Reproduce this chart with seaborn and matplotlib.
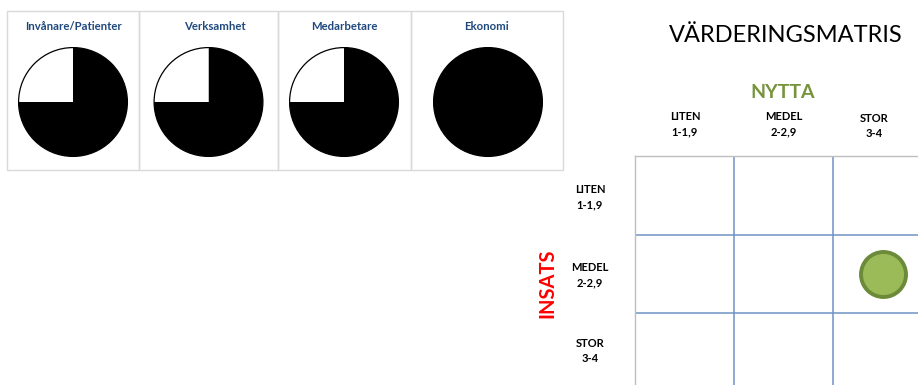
import matplotlib
matplotlib.use("Agg")
import matplotlib.pyplot as plt
import seaborn as sns
import pandas as pd
from matplotlib.patches import Rectangle

# ---------------- data ----------------
perspectives = ["Invånare/Patienter", "Verksamhet", "Medarbetare", "Ekonomi"]
scores = [3, 3, 3, 4]          # harvey-ball score out of 4
max_score = 4

nytta_labels = ["LITEN\n1-1,9", "MEDEL\n2-2,9", "STOR\n3-4"]
insats_labels = ["LITEN\n1-1,9", "MEDEL\n2-2,9", "STOR\n3-4"]
nytta_value = [3.5]
insats_value = [2.5]

# ---------------- style ----------------
sns.set_theme(style="white")
plt.rcParams["font.family"] = ["Lato", "DejaVu Sans"]

W, H = 918, 385
fig = plt.figure(figsize=(W / 100, H / 100), dpi=100)
fig.patch.set_facecolor("white")

# background overlay axes in pixel coordinates
bg = fig.add_axes([0, 0, 1, 1], zorder=0)
bg.set_xlim(0, W)
bg.set_ylim(H, 0)
bg.axis("off")

navy = "#1F497D"
box_edges = [(7, 139), (139, 278), (278, 411), (411, 563)]
pie_cx = [73, 208.5, 344, 488]
title_cx = [73, 215, 344, 486]
pie_cy = 102
pie_r = 55.5

for (x0, x1) in box_edges:
    bg.add_patch(Rectangle((x0, 11), x1 - x0, 159, fill=False,
                           edgecolor="#D9D9D9", linewidth=1))

for name, score, cx, tx in zip(perspectives, scores, pie_cx, title_cx):
    bg.text(tx, 26, name, ha="center", va="center", fontsize=8.2,
            fontweight="bold", color=navy)
    ax = fig.add_axes([(cx - pie_r) / W, 1 - (pie_cy + pie_r) / H,
                       2 * pie_r / W, 2 * pie_r / H], zorder=2)
    vals = [score, max_score - score]
    ax.pie(vals, colors=["black", "white"], startangle=90, counterclock=False,
           wedgeprops=dict(edgecolor="none"), radius=1)
    circ = plt.Circle((0, 0), 1, fill=False, edgecolor="black", linewidth=0.9)
    ax.add_patch(circ)
    ax.set_xlim(-1.02, 1.02)
    ax.set_ylim(-1.02, 1.02)
    ax.axis("off")

# titles for matrix
bg.text(786, 35, "VÄRDERINGSMATRIS", ha="center", va="center",
        fontsize=17, color="black")
bg.text(783, 93, "NYTTA", ha="center", va="center", fontsize=14,
        fontweight="bold", color="#77933C")
for lab, x, y in zip(nytta_labels, [685, 784, 874], [124, 124, 126]):
    bg.text(x, y, lab, ha="center", va="center", fontsize=8,
            fontweight="bold", color="black", linespacing=1.55)
for lab, y in zip(insats_labels, [197, 275, 351]):
    bg.text(590, y, lab, ha="center", va="center", fontsize=8,
            fontweight="bold", color="black", linespacing=1.55)
bg.text(547, 283, "INSATS", ha="center", va="center", rotation=90,
        fontsize=14.5, fontweight="bold", color="#FF0000")

# matrix axes: x 1..4, y 1..4 (inverted)
x_left, unit_x = 635, 99
y_top, unit_y = 156, 78.5
mx = fig.add_axes([x_left / W, 1 - (y_top + 3 * unit_y) / H,
                   3 * unit_x / W, 3 * unit_y / H], zorder=1)
df = pd.DataFrame({"nytta": nytta_value, "insats": insats_value})
sns.scatterplot(data=df, x="nytta", y="insats", ax=mx, s=1050,
                color="#9BBB59", edgecolor="#6B8A3A", linewidth=2.8,
                legend=False, zorder=5)
for v in [2, 3]:
    mx.axvline(v, color="#6F93C6", linewidth=1.1)
    mx.axhline(v, color="#6F93C6", linewidth=1.1)
mx.set_xlim(1, 4)
mx.set_ylim(4, 1)
mx.set_xticks([])
mx.set_yticks([])
mx.set_xlabel("")
mx.set_ylabel("")
mx.set_facecolor("none")
for side in ["left", "top"]:
    mx.spines[side].set_visible(True)
    mx.spines[side].set_color("#BFBFBF")
    mx.spines[side].set_linewidth(1)
for side in ["right", "bottom"]:
    mx.spines[side].set_visible(False)

fig.savefig("out.png", dpi=100, facecolor="white")
